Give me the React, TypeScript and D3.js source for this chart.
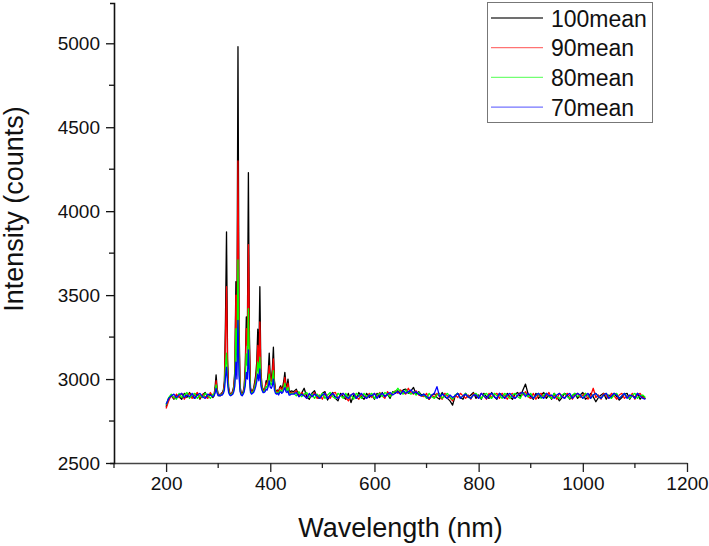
import * as d3 from 'd3';
import { default as React, useRef, useEffect } from 'react';

const dimensions = {
  width: 709,
  height: 546,
  margin: { top: 3, right: 22, bottom: 83, left: 114 }
};

// wavelength sampling (nm): coarse below the emission band, 2 nm across it, coarse above
const waveA = d3.range(200, 291, 5);
const waveFine = d3.range(292, 441, 2);
const waveB = d3.range(445, 1121, 5);
const wavelengths = [...waveA, ...waveFine, ...waveB];

const seriesNames = ['100mean', '90mean', '80mean', '70mean'];
const seriesColors = ['#000000', '#ff0000', '#00ff00', '#0000ff'];

const yTicks = [2500, 3000, 3500, 4000, 4500, 5000];
const yMinor = [2750, 3250, 3750, 4250, 4750];
const xTicks = [200, 400, 600, 800, 1000, 1200];
const xMinor = [100, 300, 500, 700, 900, 1100];

// 100mean
const mean100 = [
  2835, 2885, 2900, 2880, 2905, 2895, 2880, 2915, 2890, 2920, 2895, 2885, 2915, 2880, 2905, 2920, 2890, 2910, 2890,
  2905, 2950, 3025, 2945, 2910, 2900, 2905, 2915, 2920, 2935, 2990, 3350, 3877, 3120, 2950, 2920, 2910, 2915, 2930, 2960,
  3050, 3580, 3300, 4980, 3350, 2960, 2920, 2915, 2925, 2960, 3080, 3370, 3250, 4230, 3250, 2950, 2925, 2930, 2945, 2980,
  3020, 3100, 3297, 3120, 3550, 3050, 2960, 2940, 2935, 2950, 2990, 2980, 3040, 3155, 3010, 3000, 3060, 3190, 2990, 2940,
  2925, 2935, 2920, 2950, 2960, 2940, 2955, 2990, 3040, 2970, 2950, 3000, 2935, 2920, 2930,
  2925, 2940, 2900, 2915, 2945, 2895, 2880, 2915, 2930, 2890,
  2885, 2915, 2925, 2875, 2905, 2920, 2885, 2870, 2915, 2895,
  2880, 2915, 2860, 2905, 2885, 2920, 2895, 2880, 2915, 2890,
  2905, 2880, 2915, 2890, 2920, 2895, 2910, 2885, 2925, 2915,
  2930, 2910, 2935, 2940, 2915, 2930, 2950, 2910, 2925, 2905,
  2910, 2895, 2880, 2900, 2915, 2890, 2880, 2920, 2895, 2885,
  2870, 2845, 2900, 2915, 2890, 2880, 2915, 2890, 2905, 2920,
  2885, 2905, 2880, 2915, 2895, 2885, 2920, 2895, 2880, 2915,
  2905, 2885, 2915, 2895, 2880, 2910, 2920, 2895, 2935, 2970,
  2910, 2895, 2880, 2915, 2885, 2905, 2920, 2885, 2905, 2880,
  2915, 2895, 2870, 2890, 2915, 2905, 2880, 2900, 2915, 2885,
  2905, 2920, 2880, 2890, 2915, 2895, 2865, 2890, 2905, 2915,
  2880, 2905, 2890, 2915, 2895, 2875, 2890, 2910, 2915, 2880,
  2905, 2890, 2915, 2880, 2900, 2880
];

// 90mean
const mean90 = [
  2825, 2870, 2905, 2885, 2910, 2890, 2915, 2880, 2905, 2915, 2885, 2905, 2920, 2885, 2910, 2895, 2885, 2920, 2895,
  2900, 2935, 2990, 2935, 2905, 2910, 2900, 2910, 2915, 2930, 2975, 3250, 3550, 3080, 2945, 2915, 2905, 2915, 2925, 2950,
  3030, 3500, 3250, 4300, 3250, 2950, 2915, 2910, 2920, 2950, 3050, 3300, 3200, 3800, 3180, 2940, 2920, 2925, 2940, 2965,
  3000, 3060, 3200, 3080, 3340, 3030, 2955, 2935, 2930, 2945, 2975, 2970, 3010, 3080, 2995, 2985, 3030, 3120, 2975, 2935,
  2920, 2930, 2915, 2945, 2950, 2935, 2945, 2970, 3010, 2955, 2940, 2975, 2925, 2915, 2920,
  2915, 2930, 2895, 2920, 2905, 2885, 2910, 2895, 2920, 2885,
  2905, 2880, 2915, 2900, 2885, 2915, 2920, 2885, 2900, 2915,
  2890, 2870, 2905, 2915, 2895, 2880, 2910, 2900, 2885, 2915,
  2890, 2915, 2895, 2920, 2900, 2885, 2925, 2905, 2915, 2930,
  2915, 2935, 2920, 2910, 2945, 2920, 2910, 2930, 2905, 2900,
  2895, 2915, 2880, 2905, 2890, 2915, 2895, 2880, 2915, 2900,
  2890, 2870, 2905, 2890, 2915, 2900, 2885, 2905, 2880, 2915,
  2900, 2885, 2915, 2900, 2880, 2915, 2890, 2905, 2915, 2885,
  2915, 2900, 2880, 2905, 2915, 2885, 2900, 2920, 2905, 2925,
  2895, 2885, 2915, 2880, 2905, 2915, 2890, 2900, 2920, 2885,
  2905, 2880, 2915, 2900, 2885, 2915, 2900, 2880, 2905, 2915,
  2890, 2905, 2915, 2880, 2900, 2945, 2890, 2905, 2880, 2915,
  2900, 2885, 2915, 2900, 2880, 2905, 2915, 2885, 2900, 2890,
  2915, 2880, 2905, 2915, 2890, 2885
];

// 80mean
const mean80 = [
  2845, 2890, 2910, 2890, 2880, 2915, 2890, 2905, 2920, 2885, 2905, 2915, 2885, 2905, 2890, 2915, 2900, 2885, 2910,
  2900, 2925, 2965, 2925, 2905, 2900, 2905, 2905, 2910, 2920, 2950, 3080, 3154, 3010, 2930, 2910, 2905, 2910, 2915, 2935,
  2990, 3300, 3100, 3710, 3100, 2935, 2910, 2905, 2915, 2935, 3000, 3150, 3080, 3420, 3060, 2930, 2915, 2920, 2930, 2950,
  2975, 3020, 3100, 3030, 3130, 2990, 2945, 2925, 2925, 2935, 2955, 2950, 2980, 3030, 2975, 2965, 2990, 3050, 2955, 2925,
  2915, 2920, 2910, 2930, 2935, 2925, 2930, 2950, 2975, 2940, 2930, 2950, 2915, 2910, 2915,
  2915, 2900, 2925, 2895, 2910, 2920, 2890, 2910, 2885, 2910,
  2895, 2915, 2885, 2905, 2920, 2895, 2885, 2915, 2900, 2885,
  2915, 2885, 2905, 2880, 2915, 2900, 2885, 2915, 2895, 2905,
  2915, 2885, 2905, 2915, 2895, 2920, 2910, 2895, 2920, 2925,
  2945, 2925, 2910, 2935, 2920, 2910, 2925, 2905, 2920, 2900,
  2905, 2885, 2915, 2895, 2885, 2905, 2915, 2885, 2900, 2915,
  2895, 2880, 2905, 2915, 2885, 2900, 2915, 2895, 2885, 2905,
  2915, 2895, 2885, 2905, 2915, 2895, 2885, 2915, 2900, 2905,
  2885, 2915, 2900, 2885, 2905, 2915, 2895, 2885, 2920, 2910,
  2895, 2915, 2885, 2900, 2915, 2885, 2905, 2915, 2895, 2885,
  2915, 2895, 2885, 2905, 2915, 2895, 2885, 2905, 2915, 2895,
  2905, 2885, 2915, 2900, 2885, 2905, 2915, 2895, 2885, 2905,
  2915, 2895, 2885, 2905, 2915, 2885, 2900, 2915, 2895, 2885,
  2905, 2915, 2885, 2900, 2905, 2890
];

// 70mean
const mean70 = [
  2850, 2885, 2900, 2910, 2890, 2905, 2915, 2890, 2905, 2895, 2915, 2885, 2905, 2915, 2895, 2885, 2910, 2905, 2895,
  2900, 2915, 2945, 2915, 2900, 2905, 2900, 2905, 2905, 2915, 2935, 3010, 3071, 2975, 2920, 2905, 2900, 2905, 2910, 2925,
  2960, 3100, 3000, 3350, 3020, 2925, 2905, 2900, 2910, 2925, 2960, 3040, 3000, 3173, 3000, 2920, 2910, 2915, 2920, 2935,
  2955, 2985, 3030, 2990, 3060, 2960, 2935, 2920, 2920, 2925, 2940, 2935, 2955, 2990, 2950, 2945, 2960, 3000, 2935, 2915,
  2910, 2915, 2905, 2920, 2925, 2915, 2920, 2935, 2950, 2925, 2920, 2930, 2905, 2905, 2910,
  2910, 2920, 2895, 2910, 2900, 2885, 2915, 2895, 2910, 2900,
  2885, 2905, 2915, 2885, 2900, 2915, 2895, 2885, 2905, 2915,
  2895, 2885, 2905, 2915, 2885, 2900, 2915, 2895, 2885, 2905,
  2900, 2915, 2885, 2905, 2915, 2895, 2910, 2920, 2905, 2915,
  2925, 2910, 2930, 2915, 2925, 2935, 2915, 2925, 2910, 2900,
  2910, 2895, 2885, 2905, 2915, 2955, 2895, 2910, 2900, 2885,
  2905, 2890, 2900, 2915, 2885, 2900, 2910, 2895, 2885, 2905,
  2905, 2885, 2915, 2900, 2885, 2905, 2915, 2895, 2885, 2915,
  2900, 2885, 2905, 2915, 2895, 2885, 2905, 2915, 2920, 2895,
  2915, 2900, 2885, 2905, 2915, 2895, 2885, 2915, 2900, 2905,
  2885, 2905, 2915, 2895, 2885, 2905, 2915, 2885, 2900, 2915,
  2905, 2885, 2900, 2915, 2885, 2905, 2915, 2895, 2885, 2905,
  2915, 2885, 2900, 2915, 2905, 2885, 2900, 2915, 2885, 2905,
  2900, 2885, 2915, 2900, 2885, 2880
];

const seriesValues = [mean100, mean90, mean80, mean70];

const font = '"Liberation Sans", Arial, sans-serif';

const SpectrumChart = () => {
  const { width, height, margin } = dimensions;
  const svgRef = useRef<SVGSVGElement>(null);

  useEffect(() => {
    const x0 = margin.left;
    const x1 = width - margin.right;
    const yBottom = height - margin.bottom;

    const xScale = d3.scaleLinear().domain([100, 1200]).range([x0, x1]);
    const yScale = d3.scaleLinear().domain([2500, 5240]).range([yBottom, margin.top]);

    const svg = d3.select(svgRef.current);
    svg.selectAll('*').remove();

    // spectra, black first so the weaker series sit on top
    const line = d3.line<number>()
      .x((_, i) => xScale(wavelengths[i]))
      .y(d => yScale(d));

    seriesValues.forEach((vals, k) => {
      svg.append('path')
        .attr('d', line(vals))
        .attr('fill', 'none')
        .attr('stroke', seriesColors[k])
        .attr('stroke-width', 1.3)
        .attr('stroke-linejoin', 'round');
    });

    // x axis
    const gx = svg.append('g')
      .attr('transform', `translate(0,${yBottom})`)
      .call(d3.axisBottom(xScale).tickValues(xTicks).tickSize(9).tickSizeOuter(0).tickPadding(5)
        .tickFormat(d3.format('d')));
    gx.select('.domain').attr('stroke', '#444').attr('stroke-width', 1.3);
    gx.selectAll('.tick line').attr('stroke', '#222').attr('stroke-width', 1.3);
    gx.selectAll('.tick text').attr('font-size', 19).attr('font-family', font).attr('fill', '#111');
    gx.selectAll('.minor')
      .data(xMinor)
      .enter()
      .append('line')
      .attr('x1', d => xScale(d))
      .attr('x2', d => xScale(d))
      .attr('y1', 0)
      .attr('y2', 5)
      .attr('stroke', '#222')
      .attr('stroke-width', 1.3);

    // y axis
    const gy = svg.append('g')
      .attr('transform', `translate(${x0},0)`)
      .call(d3.axisLeft(yScale).tickValues(yTicks).tickSize(8).tickSizeOuter(4).tickPadding(6)
        .tickFormat(d3.format('d')));
    gy.select('.domain').attr('stroke', '#111').attr('stroke-width', 1.6);
    gy.selectAll('.tick line').attr('stroke', '#111').attr('stroke-width', 1.3);
    gy.selectAll('.tick text').attr('font-size', 19).attr('font-family', font).attr('fill', '#111');
    gy.selectAll('.minor')
      .data(yMinor)
      .enter()
      .append('line')
      .attr('x1', 0)
      .attr('x2', -5)
      .attr('y1', d => yScale(d))
      .attr('y2', d => yScale(d))
      .attr('stroke', '#111')
      .attr('stroke-width', 1.3);

    // axis titles
    svg.append('text')
      .attr('x', (x0 + x1) / 2)
      .attr('y', 537)
      .attr('text-anchor', 'middle')
      .attr('font-family', font)
      .attr('font-size', 27)
      .attr('fill', '#111')
      .text('Wavelength (nm)');

    svg.append('text')
      .attr('transform', `translate(23,209) rotate(-90)`)
      .attr('text-anchor', 'middle')
      .attr('font-family', font)
      .attr('font-size', 27)
      .attr('fill', '#111')
      .text('Intensity (counts)');

    // legend
    const legend = svg.append('g');
    legend.append('rect')
      .attr('x', 487.5)
      .attr('y', 2.5)
      .attr('width', 165)
      .attr('height', 120)
      .attr('fill', '#fff')
      .attr('stroke', '#777')
      .attr('stroke-width', 1);

    seriesNames.forEach((name, k) => {
      const ly = 18 + k * 29.7;
      legend.append('line')
        .attr('x1', 491)
        .attr('x2', 543)
        .attr('y1', ly)
        .attr('y2', ly)
        .attr('stroke', seriesColors[k])
        .attr('stroke-opacity', k === 0 ? 0.75 : 0.55)
        .attr('stroke-width', 1.3);
      legend.append('text')
        .attr('x', 551)
        .attr('y', ly + 8.5)
        .attr('font-family', font)
        .attr('font-size', 23)
        .attr('fill', '#111')
        .text(name);
    });
  }, []);

  return (
    <svg
      ref={svgRef}
      width={width}
      height={height}
      style={{ position: 'absolute', left: 0, top: 0, background: '#fff' }}
    />
  );
};

export default function App() {
  return <SpectrumChart />;
}
